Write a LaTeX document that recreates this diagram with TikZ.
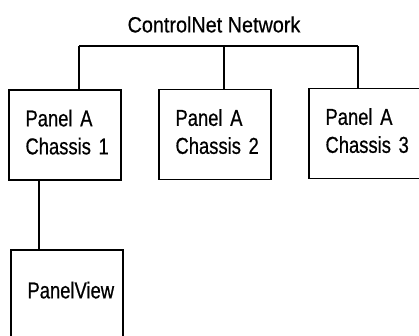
\documentclass[tikz,border=0pt]{standalone}
\usepackage{fontspec}
\setmainfont{Liberation Sans}[FakeStretch=0.8, FakeBold=0.6]
\newfontfamily\titlefont{Liberation Sans}[FakeStretch=0.9, FakeBold=0.5]
\usetikzlibrary{positioning}
\tikzset{
  unit/.style={rectangle, draw, line width=1.1pt, minimum width=112pt, minimum height=90pt,
               text width=79pt, inner xsep=16.5pt, align=left, text depth=34pt,
               font=\fontsize{23}{28}\selectfont},
  link/.style={draw, line width=1.1pt},
}
\begin{document}
\begin{tikzpicture}[x=1pt,y=-1pt]
  \useasboundingbox (0,0) rectangle (419,335);
  \node[font=\titlefont\fontsize{22}{26}\selectfont] (net) at (214,24.5) {ControlNet Network};
  % chassis on the network
  \node[unit] (ch1) at (65,135) {Panel~A\\Chassis~1};
  \node[unit] (ch2) at (215,134.5) {Panel~A\\Chassis~2};
  \node[unit, minimum width=107pt] (ch3) at (365,133.5) {Panel~A\\Chassis~3};
  \node[unit, minimum height=100pt, text depth=20pt] (pv) at (67,300) {PanelView};
  % bus taps
  \coordinate (tap1) at (79,46);
  \coordinate (tap2) at (224,46);
  \coordinate (tap3) at (358,46);
  \coordinate (drop) at (39,0);
  \draw[link] (tap1) -- (tap3);
  \draw[link] (tap1) -- (tap1 |- ch1.north);
  \draw[link] (tap2) -- (tap2 |- ch2.north);
  \draw[link] (tap3) -- (tap3 |- ch3.north);
  \draw[link] (drop |- ch1.south) -- (drop |- pv.north);
\end{tikzpicture}
\end{document}
